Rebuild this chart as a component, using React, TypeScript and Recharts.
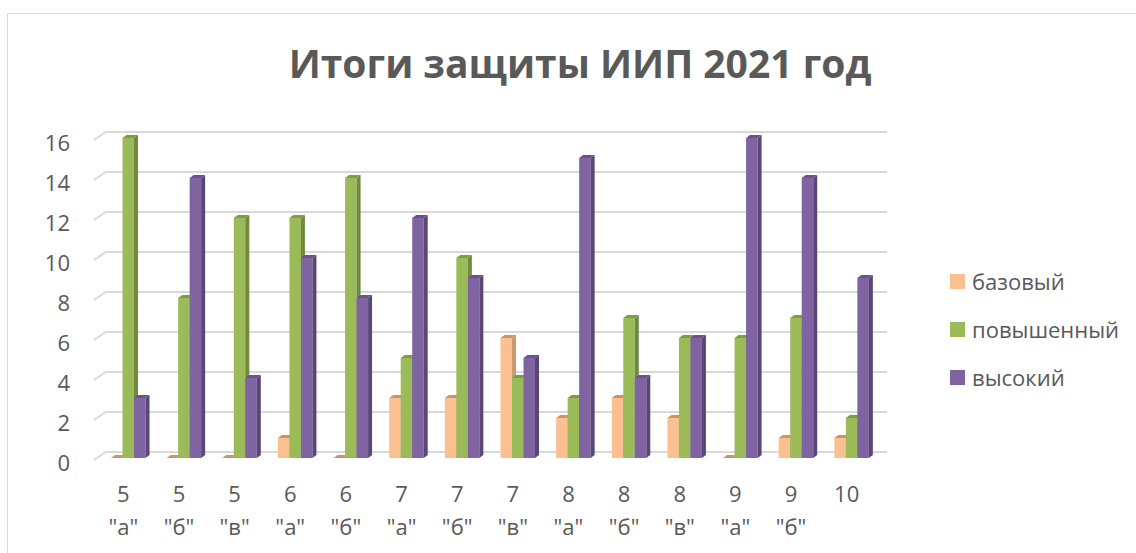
import React from 'react';
import { BarChart, Bar, XAxis, YAxis, CartesianGrid, Legend } from 'recharts';

const categories = ['5 "а"', '5 "б"', '5 "в"', '6 "а"', '6 "б"', '7 "а"', '7 "б"', '7 "в"', '8 "а"', '8 "б"', '8 "в"', '9 "а"', '9 "б"', '10'];
const baseValues = [0, 0, 0, 1, 0, 3, 3, 6, 2, 3, 2, 0, 1, 1];
const raisedValues = [16, 8, 12, 12, 14, 5, 10, 4, 3, 7, 6, 6, 7, 2];
const highValues = [3, 14, 4, 10, 8, 12, 9, 5, 15, 4, 6, 16, 14, 9];
const yTicks = [0, 2, 4, 6, 8, 10, 12, 14, 16];
const seriesNames = ['базовый', 'повышенный', 'высокий'];
const title = 'Итоги защиты ИИП 2021 год';

const data = categories.map((c, i) => ({
  name: c,
  base: baseValues[i],
  raised: raisedValues[i],
  high: highValues[i],
}));

const FONT = '"Open Sans", sans-serif';
const TEXT = '#595959';

const palette = [
  { fill: '#FAC090', side: '#C99A70', top: '#C8946A' },
  { fill: '#9BBB59', side: '#6F8A3C', top: '#7E9B46' },
  { fill: '#8064A2', side: '#5A4677', top: '#6A528A' },
];

const make3D = (p: { fill: string; side: string; top: string }) => (props: any) => {
  const { x, y, width, height } = props;
  if (x == null || y == null) return <g />;
  const d = 4;
  const e = 3;
  const h = Math.max(0, height || 0);
  return (
    <g>
      {h > 0 && <rect x={x} y={y} width={width} height={h} fill={p.fill} />}
      {h > 0 && (
        <polygon
          points={`${x + width},${y} ${x + width + d},${y - e} ${x + width + d},${y + h - e} ${x + width},${y + h}`}
          fill={p.side}
        />
      )}
      <polygon
        points={`${x},${y} ${x + d},${y - e} ${x + width + d},${y - e} ${x + width},${y}`}
        fill={p.top}
      />
    </g>
  );
};

const GridLine = (props: any) => {
  const { x1, x2, y1 } = props;
  const yb = y1 - 6;
  return (
    <polyline
      points={`${x1 - 6},${y1 + 2} ${x1 + 6},${yb} ${x2 + 8},${yb}`}
      fill="none"
      stroke="#D9D9D9"
      strokeWidth={2}
    />
  );
};

const YTick = (props: any) => {
  const { y, payload } = props;
  return (
    <text x={70} y={y + 4} textAnchor="end" dominantBaseline="central" fontFamily={FONT} fontSize={22} fill={TEXT}>
      {payload.value}
    </text>
  );
};

const XTick = (props: any) => {
  const { x, payload } = props;
  const parts = String(payload.value).split(' ');
  return (
    <g>
      {parts.map((t, i) => (
        <text
          key={i}
          x={x - 4.5}
          y={493 + i * 33}
          textAnchor="middle"
          dominantBaseline="central"
          fontFamily={FONT}
          fontSize={22}
          fill={TEXT}
        >
          {t}
        </text>
      ))}
    </g>
  );
};

const LegendContent = () => (
  <div style={{ fontFamily: FONT, fontSize: 22, color: TEXT }}>
    {seriesNames.map((n, i) => (
      <div key={n} style={{ display: 'flex', alignItems: 'center', height: 48 }}>
        <span style={{ width: 15, height: 15, background: palette[i].fill, display: 'inline-block', marginRight: 7 }} />
        <span>{n}</span>
      </div>
    ))}
  </div>
);

export default function App() {
  return (
    <div style={{ position: 'absolute', left: 0, top: 0, width: 1136, height: 553, background: '#fff', overflow: 'hidden' }}>
      <div
        style={{
          position: 'absolute',
          left: 7,
          top: 13,
          width: 1200,
          height: 600,
          border: '1.5px solid #D9D9D9',
          boxSizing: 'border-box',
        }}
      />
      <svg style={{ position: 'absolute', left: 0, top: 0 }} width={1136} height={120}>
        <text x={580} y={78} textAnchor="middle" fontFamily={FONT} fontWeight={700} fontSize={39} fill={TEXT}>
          {title}
        </text>
      </svg>
      <div style={{ position: 'absolute', left: 0, top: 0 }}>
        <BarChart
          width={1136}
          height={553}
          data={data}
          margin={{ top: 138, right: 257, bottom: 0, left: 0 }}
          barSize={11.5}
          barGap={0}
        >
          <CartesianGrid vertical={false} horizontal={GridLine} />
          <YAxis
            domain={[0, 16]}
            ticks={yTicks}
            width={100}
            axisLine={false}
            tickLine={false}
            tick={YTick}
            interval={0}
          />
          <XAxis dataKey="name" height={95} axisLine={false} tickLine={false} tick={XTick} interval={0} />
          <Legend
            content={LegendContent}
            layout="vertical"
            verticalAlign="middle"
            align="center"
            wrapperStyle={{ position: 'absolute', left: 950, top: 257, width: 186 }}
          />
          <Bar dataKey="base" name={seriesNames[0]} fill={palette[0].fill} shape={make3D(palette[0])} isAnimationActive={false} />
          <Bar dataKey="raised" name={seriesNames[1]} fill={palette[1].fill} shape={make3D(palette[1])} isAnimationActive={false} />
          <Bar dataKey="high" name={seriesNames[2]} fill={palette[2].fill} shape={make3D(palette[2])} isAnimationActive={false} />
        </BarChart>
      </div>
    </div>
  );
}
